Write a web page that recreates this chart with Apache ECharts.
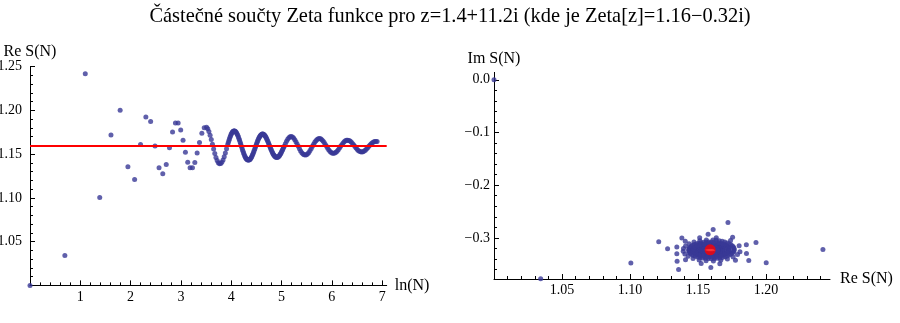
<!DOCTYPE html>
<html>
<head>
<meta charset="utf-8">
<script src="https://cdn.jsdelivr.net/npm/echarts@6/dist/echarts.min.js"></script>
<style>
  html, body { margin: 0; padding: 0; background: #ffffff; }
  #chart { width: 900px; height: 323px; }
</style>
</head>
<body>
<div id="chart"></div>
<script>
// Partial sums S(N) of the zeta series at z = 1.4 + 11.2i.
// lnN[i] is ln(N) of a point, reS[i] / imS[i] are Re S(N) and Im S(N) there.
const lnN = [
  0, 0.6931, 1.0986, 1.3863, 1.6094, 1.7918, 1.9459, 2.0794, 2.1972, 2.3026,
  2.3979, 2.4849, 2.5649, 2.6391, 2.7081, 2.7726, 2.8332, 2.8904, 2.9444, 2.9957,
  3.042, 3.089, 3.135, 3.182, 3.229, 3.276, 3.322,
  3.369, 3.416, 3.463, 3.509, 3.533, 3.556, 3.580, 3.603, 3.626, 3.650, 3.673, 3.696, 3.720, 3.743, 3.767, 3.790, 3.813, 3.837, 3.860, 3.883, 3.907,
  3.930, 3.954, 3.977, 4.000, 4.024, 4.047, 4.070, 4.094, 4.117, 4.141, 4.164, 4.187, 4.211, 4.234, 4.257, 4.281, 4.304, 4.328, 4.351, 4.374, 4.398, 4.421, 4.444, 4.468,
  4.491, 4.515, 4.538, 4.561, 4.585, 4.608, 4.631, 4.655, 4.678, 4.702, 4.725, 4.748, 4.772, 4.795, 4.818, 4.842, 4.865, 4.889, 4.912, 4.935, 4.959, 4.982, 5.005, 5.029,
  5.052, 5.076, 5.099, 5.122, 5.146, 5.169, 5.192, 5.216, 5.239, 5.263, 5.286, 5.309, 5.333, 5.356, 5.379, 5.403, 5.426, 5.450, 5.473, 5.496, 5.520, 5.543, 5.566, 5.590,
  5.613, 5.637, 5.660, 5.683, 5.707, 5.730, 5.753, 5.777, 5.800, 5.824, 5.847, 5.870, 5.894, 5.917, 5.940, 5.964, 5.987, 6.011, 6.034, 6.057, 6.081, 6.104, 6.127, 6.151,
  6.174, 6.198, 6.221, 6.244, 6.268, 6.291, 6.314, 6.338, 6.361, 6.385, 6.408, 6.431, 6.455, 6.478, 6.501, 6.525, 6.548, 6.572, 6.595, 6.618, 6.642, 6.665, 6.688, 6.712,
  6.735, 6.759, 6.782, 6.805, 6.829, 6.852, 6.875, 6.899,
  3.942, 3.965, 3.989, 4.012, 4.035, 4.059, 4.082, 4.105, 4.129, 4.152, 4.176, 4.199, 4.222, 4.246, 4.269, 4.292, 4.316, 4.339, 4.363, 4.386, 4.409, 4.433, 4.456, 4.479,
  4.503, 4.526, 4.550, 4.573, 4.596, 4.620, 4.643, 4.666, 4.690, 4.713, 4.737, 4.760, 4.783, 4.807, 4.830, 4.853, 4.877, 4.900, 4.924, 4.947, 4.970, 4.994, 5.017, 5.040
];
const reS = [
  1, 1.0343, 1.2418, 1.1006, 1.1720, 1.2001, 1.1357, 1.1211, 1.1611, 1.1926,
  1.1873, 1.1594, 1.1346, 1.1276, 1.1381, 1.1574, 1.1754, 1.1855, 1.1856, 1.1775,
  1.1660, 1.1523, 1.1408, 1.1344, 1.1344, 1.1406, 1.1512,
  1.1634, 1.1739, 1.1802, 1.1808, 1.1790, 1.1758, 1.1716, 1.1667, 1.1613, 1.1559, 1.1508, 1.1463, 1.1427, 1.1403, 1.1391, 1.1393, 1.1408, 1.1434, 1.1470, 1.1513, 1.1561,
  1.1609, 1.1656, 1.1696, 1.1729, 1.1753, 1.1764, 1.1764, 1.1752, 1.1730, 1.1699, 1.1661, 1.1619, 1.1575, 1.1534, 1.1497, 1.1466, 1.1445, 1.1433, 1.1432, 1.1442, 1.1461, 1.1489, 1.1522, 1.1560,
  1.1598, 1.1636, 1.1669, 1.1697, 1.1717, 1.1727, 1.1729, 1.1721, 1.1704, 1.1680, 1.1651, 1.1617, 1.1583, 1.1549, 1.1519, 1.1494, 1.1476, 1.1466, 1.1464, 1.1471, 1.1485, 1.1506, 1.1533, 1.1562,
  1.1589, 1.1619, 1.1647, 1.1670, 1.1688, 1.1698, 1.1701, 1.1696, 1.1684, 1.1666, 1.1643, 1.1617, 1.1589, 1.1562, 1.1537, 1.1516, 1.1501, 1.1492, 1.1489, 1.1493, 1.1504, 1.1520, 1.1541, 1.1564,
  1.1589, 1.1613, 1.1635, 1.1654, 1.1668, 1.1676, 1.1678, 1.1675, 1.1665, 1.1650, 1.1632, 1.1611, 1.1589, 1.1567, 1.1548, 1.1531, 1.1519, 1.1511, 1.1509, 1.1513, 1.1521, 1.1534, 1.1551, 1.1569,
  1.1589, 1.1608, 1.1626, 1.1641, 1.1652, 1.1659, 1.1660, 1.1657, 1.1650, 1.1638, 1.1623, 1.1607, 1.1589, 1.1572, 1.1556, 1.1543, 1.1533, 1.1527, 1.1525, 1.1528, 1.1535, 1.1545, 1.1558, 1.1573,
  1.1589, 1.1604, 1.1619, 1.1630, 1.1639, 1.1645, 1.1646, 1.1644,
  1.1633, 1.1677, 1.1714, 1.1742, 1.1760, 1.1766, 1.1760, 1.1742, 1.1715, 1.1680, 1.1640, 1.1597, 1.1554, 1.1514, 1.1480, 1.1454, 1.1438, 1.1432, 1.1436, 1.1451, 1.1474, 1.1505, 1.1541, 1.1579,
  1.1617, 1.1653, 1.1684, 1.1708, 1.1723, 1.1729, 1.1726, 1.1714, 1.1693, 1.1666, 1.1634, 1.1600, 1.1566, 1.1534, 1.1506, 1.1484, 1.1470, 1.1464, 1.1466, 1.1477, 1.1495, 1.1519, 1.1547, 1.1578
];
const imS = [
  0, -0.3774, -0.3218, -0.3477, -0.2706, -0.3470, -0.3598, -0.3074, -0.2843, -0.3086,
  -0.3431, -0.3563, -0.3442, -0.3204, -0.3004, -0.2931, -0.2990, -0.3132, -0.3295, -0.3422,
  -0.3491, -0.3486, -0.3416, -0.3301, -0.3172, -0.3062, -0.2998,
  -0.2995, -0.3051, -0.3149, -0.3263, -0.3317, -0.3364, -0.3401, -0.3426, -0.3437, -0.3434, -0.3418, -0.3389, -0.3350, -0.3304, -0.3253, -0.3202, -0.3153, -0.3110, -0.3076, -0.3052, -0.3041,
  -0.3041, -0.3055, -0.3079, -0.3112, -0.3153, -0.3198, -0.3243, -0.3287, -0.3326, -0.3358, -0.3380, -0.3392, -0.3392, -0.3382, -0.3361, -0.3332, -0.3296, -0.3256, -0.3215, -0.3176, -0.3141, -0.3112, -0.3091, -0.3080,
  -0.3079, -0.3087, -0.3105, -0.3131, -0.3163, -0.3198, -0.3234, -0.3270, -0.3302, -0.3328, -0.3347, -0.3357, -0.3359, -0.3352, -0.3336, -0.3314, -0.3286, -0.3254, -0.3222, -0.3190, -0.3161, -0.3137, -0.3120, -0.3110,
  -0.3108, -0.3114, -0.3126, -0.3145, -0.3170, -0.3198, -0.3227, -0.3255, -0.3282, -0.3304, -0.3320, -0.3330, -0.3332, -0.3328, -0.3317, -0.3299, -0.3278, -0.3253, -0.3227, -0.3201, -0.3178, -0.3158, -0.3143, -0.3135,
  -0.3132, -0.3136, -0.3146, -0.3162, -0.3181, -0.3203, -0.3227, -0.3250, -0.3271, -0.3288, -0.3301, -0.3309, -0.3311, -0.3308, -0.3299, -0.3285, -0.3267, -0.3248, -0.3227, -0.3206, -0.3188, -0.3172, -0.3160, -0.3153,
  -0.3151, -0.3154, -0.3163, -0.3175, -0.3190, -0.3208, -0.3227, -0.3245, -0.3262, -0.3276, -0.3286, -0.3293, -0.3294, -0.3291, -0.3284, -0.3273, -0.3259, -0.3243, -0.3227, -0.3210, -0.3195, -0.3183, -0.3174, -0.3168,
  -0.3166, -0.3169, -0.3175, -0.3185, -0.3198, -0.3212, -0.3227, -0.3241,
  -0.3047, -0.3065, -0.3095, -0.3132, -0.3175, -0.3221, -0.3266, -0.3308, -0.3343, -0.3370, -0.3387, -0.3394, -0.3388, -0.3373, -0.3347, -0.3315, -0.3277, -0.3236, -0.3195, -0.3158, -0.3125, -0.3100, -0.3084, -0.3078,
  -0.3082, -0.3095, -0.3117, -0.3146, -0.3180, -0.3216, -0.3252, -0.3286, -0.3316, -0.3338, -0.3353, -0.3359, -0.3356, -0.3345, -0.3326, -0.3300, -0.3270, -0.3238, -0.3205, -0.3175, -0.3149, -0.3128, -0.3114, -0.3108
];

// Limit value Zeta(z)
const zetaRe = 1.1589;
const zetaIm = -0.3227;

const titleText = 'Částečné součty Zeta funkce pro z=1.4+11.2i (kde je Zeta[z]=1.16−0.32i)';

// Labelled ticks
const lnTicks = [1, 2, 3, 4, 5, 6, 7];
const reLeftTicks = [1.05, 1.10, 1.15, 1.20, 1.25];
const reRightTicks = [1.05, 1.10, 1.15, 1.20];
const imTicks = [0, -0.1, -0.2, -0.3];

// Axis ranges
const lnRange = [0, 7.09];
const reLeftRange = [1.0, 1.25];
const reRightRange = [1.0, 1.247];
const imRange = [-0.378, 0.014];

const SERIF = '"Liberation Serif", "Times New Roman", Times, serif';
const INK = '#000000';
const DOT = 'rgb(56,56,150)';

function steps(from, to, step) {
  const out = [];
  for (let i = 0; from + i * step <= to + 1e-9; i++) out.push(+(from + i * step).toFixed(4));
  return out;
}

// Main axis: line, short minor ticks, labels. Overlay axis: longer major ticks.
function axisPair(opt) {
  const common = {
    type: 'value', gridIndex: opt.grid, min: opt.range[0], max: opt.range[1],
    position: opt.position, splitLine: { show: false }
  };
  const main = Object.assign({}, common, {
    name: opt.name,
    nameLocation: 'end',
    nameGap: opt.nameGap,
    nameTextStyle: { fontFamily: SERIF, fontSize: 16, color: INK },
    axisLine: { show: true, onZero: false, lineStyle: { color: INK, width: 1 } },
    axisTick: { show: true, inside: true, length: 3, customValues: opt.minor,
                lineStyle: { color: INK, width: 1 } },
    axisLabel: { show: true, customValues: opt.labels, formatter: opt.fmt, margin: opt.margin,
                 fontFamily: SERIF, fontSize: 14, color: INK }
  });
  const overlay = Object.assign({}, common, {
    axisLine: { show: false, onZero: false },
    axisTick: { show: true, inside: true, length: 5, customValues: opt.major,
                lineStyle: { color: INK, width: 1 } },
    axisLabel: { show: false }
  });
  return [main, overlay];
}

const fmt2 = v => Number(v).toFixed(2);
const fmtIm = v => (Math.abs(v) < 1e-9 ? '0.0' : (v < 0 ? '\u2212' : '') + Math.abs(v).toFixed(1));

const leftX = axisPair({ grid: 0, range: lnRange, position: 'bottom', name: 'ln(N)', nameGap: 8,
  labels: lnTicks, major: [0].concat(lnTicks), minor: steps(0, 7.0, 0.2), fmt: v => String(v), margin: 5 });
const leftY = axisPair({ grid: 0, range: reLeftRange, position: 'left', name: 'Re S(N)', nameGap: 6,
  labels: reLeftTicks, major: [1.0].concat(reLeftTicks), minor: steps(1.0, 1.25, 0.01), fmt: fmt2, margin: 8 });
const rightX = axisPair({ grid: 1, range: reRightRange, position: 'bottom', name: 'Re S(N)', nameGap: 10,
  labels: reRightTicks, major: [1.0].concat(reRightTicks), minor: steps(1.0, 1.24, 0.01), fmt: fmt2, margin: 4 });
const rightY = axisPair({ grid: 1, range: imRange, position: 'left', name: 'Im S(N)', nameGap: 6,
  labels: imTicks, major: imTicks, minor: steps(-0.36, 0.0, 0.02), fmt: fmtIm, margin: 4 });

const leftPoints = lnN.map((x, i) => [x, reS[i]]);
const rightPoints = reS.map((x, i) => [x, imS[i]]);

const chart = echarts.init(document.getElementById('chart'), null, { renderer: 'canvas' });
chart.setOption({
  animation: false,
  backgroundColor: '#ffffff',
  title: {
    text: titleText, left: 'center', top: 2,
    textStyle: { fontFamily: SERIF, fontSize: 20.4, fontWeight: 'normal', color: INK }
  },
  grid: [
    { left: 30, top: 66.65, width: 356.7, height: 218.75, containLabel: false, outerBoundsMode: 'none' },
    { left: 494, top: 72.4, width: 336, height: 206.6, containLabel: false, outerBoundsMode: 'none' }
  ],
  xAxis: [leftX[0], leftX[1], rightX[0], rightX[1]],
  yAxis: [leftY[0], leftY[1], rightY[0], rightY[1]],
  series: [
    {
      type: 'scatter', xAxisIndex: 0, yAxisIndex: 0, data: leftPoints,
      symbol: 'circle', symbolSize: 5, itemStyle: { color: DOT }, clip: true, z: 2
    },
    {
      // limit line Re S = Re Zeta(z)
      type: 'scatter', xAxisIndex: 0, yAxisIndex: 0, data: [], z: 3,
      markLine: {
        silent: true, symbol: ['none', 'none'], label: { show: false },
        lineStyle: { color: '#ff0000', width: 2, type: 'solid' },
        data: [{ yAxis: zetaRe }]
      }
    },
    {
      type: 'scatter', xAxisIndex: 2, yAxisIndex: 2, data: rightPoints,
      symbol: 'circle', symbolSize: 5, itemStyle: { color: DOT }, clip: true, z: 2
    },
    {
      type: 'scatter', xAxisIndex: 2, yAxisIndex: 2, data: [[zetaRe, zetaIm]],
      symbol: 'circle', symbolSize: 11, itemStyle: { color: '#ff0000' }, z: 10
    }
  ]
});
</script>
</body>
</html>
